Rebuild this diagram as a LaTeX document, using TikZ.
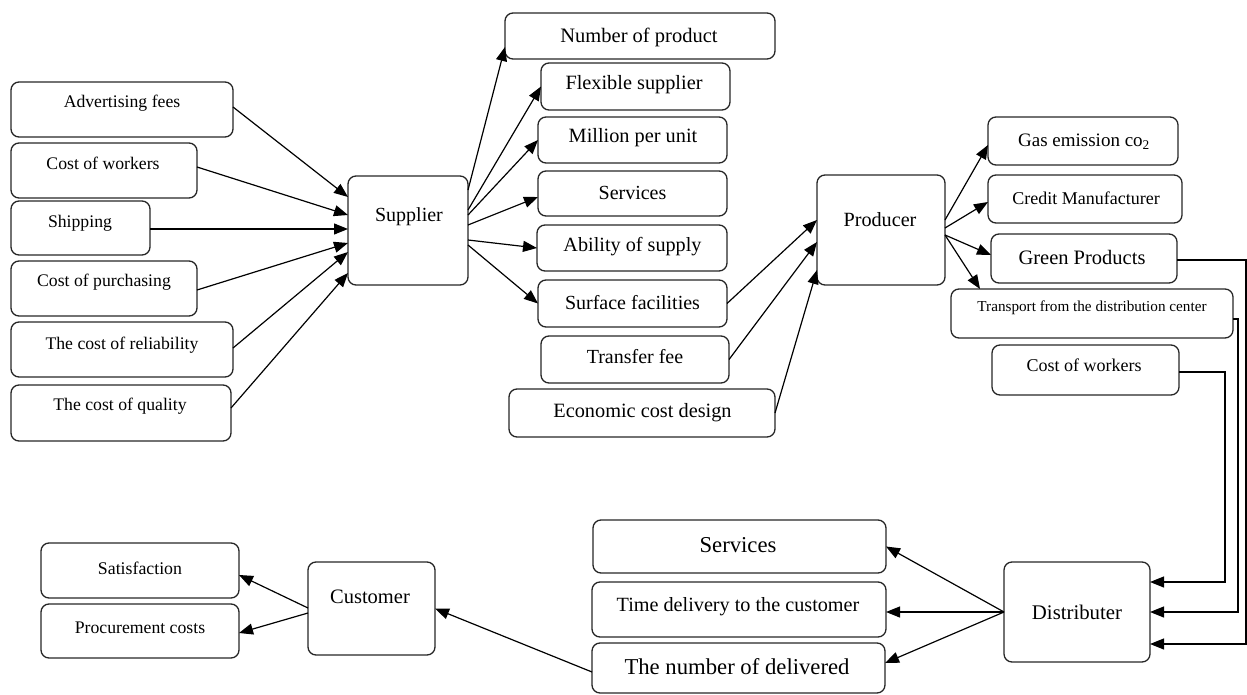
\documentclass[tikz,border=0pt]{standalone}
\usepackage{fontspec}
\setmainfont{Liberation Serif}
\usetikzlibrary{arrows.meta}
\newcommand\mybox[9]{%
 \pgfmathsetmacro\mbw{#4-#2}\pgfmathsetmacro\mbh{#5-#3}%
 \pgfmathsetmacro\mbx{(#2+#4)/2}\pgfmathsetmacro\mby{(#3+#5)/2}%
 \node[boxst, minimum width=\mbw pt, minimum height=\mbh pt] (#1) at (\mbx,\mby) {};
 \node[lbl, font=\fontsize{#8}{#8}\selectfont] (#1-t) at (#6,#7) {#9};
}
\begin{document}
\begin{tikzpicture}[x=1pt,y=-1pt,
  boxst/.style={draw=black!85, line width=1.3pt, rounded corners=8pt, inner sep=0pt, outer sep=0pt},
  lbl/.style={inner sep=0pt, text=black},
  arr/.style={line width=1.2pt, -{Triangle[length=14pt,width=11pt]}},
  con/.style={line width=1.2pt}]
\useasboundingbox (0,0) rectangle (1247,695);
% left inputs
\mybox{adv}{11}{82}{233}{137}{122}{103}{17.7}{Advertising fees}
\mybox{cwa}{11}{143}{197}{198}{103}{163}{17.7}{Cost of workers}
\mybox{ship}{11}{201}{150}{255}{80}{223}{17.7}{Shipping}
\mybox{purch}{11}{261}{197}{316}{104}{282}{17.7}{Cost of purchasing}
\mybox{rel}{11}{322}{233}{377}{122}{345}{17.7}{The cost of reliability}
\mybox{qual}{11}{385}{231}{441}{120}{406}{17.7}{The cost of quality}
% supplier
\mybox{sup}{348}{176}{468}{285}{409}{217}{20}{Supplier}
% middle column
\mybox{nop}{505}{13}{775}{59}{639}{37}{20.5}{Number of product}
\mybox{flex}{541}{63}{730}{110}{634}{85}{20.3}{Flexible supplier}
\mybox{mil}{538}{117}{727}{163}{633}{138}{20.3}{Million per unit}
\mybox{serva}{538}{171}{727}{216}{632.5}{193}{20}{Services}
\mybox{abil}{537}{225}{727}{271}{632.5}{247}{20.2}{Ability of supply}
\mybox{surf}{538}{280}{727}{327}{632.5}{303}{20}{Surface facilities}
\mybox{tfee}{541}{336}{729}{383}{635}{357}{20}{Transfer fee}
\mybox{econ}{509}{389}{775}{437}{642.5}{413}{20.3}{Economic cost design}
% producer
\mybox{prod}{817}{175}{945}{285}{880}{220}{20.2}{Producer}
\mybox{gas}{988}{117}{1178}{165}{1084}{142}{19}{Gas emission co\textsubscript{2}}
\mybox{cred}{988}{175}{1182}{223}{1086}{198}{18}{Credit Manufacturer}
\mybox{green}{991}{234}{1177}{283}{1082}{257}{20.5}{Green Products}
\mybox{trans}{951}{289}{1233}{338}{1092}{308}{15.2}{Transport from the distribution center}
\mybox{cwb}{992}{345}{1179}{395}{1084}{365}{18}{Cost of workers}
% distributer
\mybox{dist}{1004}{562}{1150}{662}{1077}{612}{20.8}{Distributer}
\mybox{servb}{593}{520}{886}{573}{738}{545}{22.7}{Services}
\mybox{time}{592}{582}{886}{637}{738}{607}{20.2}{Time delivery to the customer}
\mybox{num}{592}{643}{885}{693}{737}{667}{22.7}{The number of delivered}
% customer
\mybox{cust}{308}{562}{435}{655}{370}{597}{20.5}{Customer}
\mybox{sat}{41}{543}{239}{598}{140}{568}{17.8}{Satisfaction}
\mybox{proc}{41}{604}{239}{658}{140}{628}{17.7}{Procurement costs}
% inputs -> supplier
\draw[arr] ([yshift=2.5pt]adv.east) -- ([yshift=33.5pt]sup.west);
\draw[arr] ([yshift=3.5pt]cwa.east) -- ([yshift=15.5pt]sup.west);
\draw[arr] ([yshift=-1pt]ship.east) -- ([yshift=1.5pt]sup.west);
\draw[arr] ([yshift=-1.5pt]purch.east) -- ([yshift=-12.5pt]sup.west);
\draw[arr] ([yshift=1.5pt]rel.east) -- ([yshift=-21.5pt]sup.west);
\draw[arr] ([yshift=5pt]qual.east) -- ([yshift=-42.5pt]sup.west);
% supplier -> middle
\draw[arr] ([yshift=40.5pt]sup.east) -- ([yshift=-11pt]nop.west);
\draw[arr] ([yshift=20.5pt]sup.east) -- (flex.west);
\draw[arr] ([yshift=15.5pt]sup.east) -- (mil.west);
\draw[arr] ([yshift=5.5pt]sup.east) -- ([yshift=-3.5pt]serva.west);
\draw[arr] ([yshift=-9.5pt]sup.east) -- (abil.west);
\draw[arr] ([yshift=-14.5pt]sup.east) -- (surf.west);
% middle -> producer
\draw[arr] (surf.east) -- ([yshift=10pt]prod.west);
\draw[arr] (tfee.east) -- ([yshift=-12pt]prod.west);
\draw[arr] (econ.east) -- ([yshift=-40pt]prod.west);
% producer -> right
\draw[arr] ([yshift=10pt]prod.east) -- ([yshift=-4pt]gas.west);
\draw[arr] ([yshift=2pt]prod.east) -- ([yshift=-3pt]cred.west);
\draw[arr] ([yshift=-5pt]prod.east) -- ([yshift=3.5pt]green.west);
\draw[arr] ([yshift=-5pt]prod.east) -- ([xshift=29pt]trans.north west);
% right -> distributer
\draw[arr] ([yshift=-1.5pt]green.east) -- ++(69,0) |- ([yshift=-32pt]dist.east);
\draw[arr] ([yshift=-5.5pt]trans.east) -- ++(5,0) |- (dist.east);
\draw[arr] ([yshift=-2pt]cwb.east) -- ++(46,0) |- ([yshift=30pt]dist.east);
% distributer -> left
\draw[arr] (dist.west) -- (servb.east);
\draw[arr] (dist.west) -- ([yshift=-2.5pt]time.east);
\draw[arr] (dist.west) -- ([yshift=5pt]num.east);
% number delivered -> customer
\draw[arr] ([yshift=-4pt]num.west) -- (cust.east);
% customer -> outputs
\draw[arr] ([yshift=0.5pt]cust.west) -- ([yshift=-4.5pt]sat.east);
\draw[arr] ([yshift=-4.5pt]cust.west) -- ([yshift=-2pt]proc.east);
\end{tikzpicture}
\end{document}
